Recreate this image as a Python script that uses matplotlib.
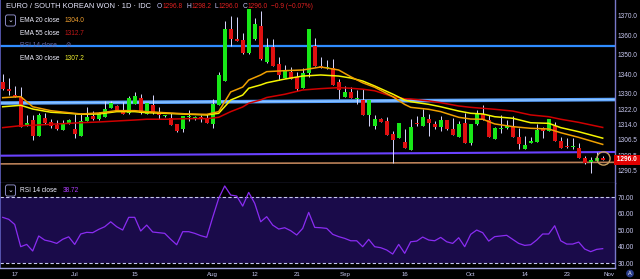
import numpy as np
import matplotlib
matplotlib.use('Agg')
import matplotlib.pyplot as plt

plt.rcParams['font.family'] = ['Liberation Sans', 'DejaVu Sans']

# ---------------- data ----------------
start_date = '2019-06-13'
opens = [1336.2, 1332.5, 1329.5, 1328.4, 1313.6, 1316.5, 1308.3, 1317.7, 1315.6, 1313.8,
         1311.4, 1314.8, 1312.1, 1308.3, 1316.0, 1318.6, 1316.9, 1318.2, 1322.8, 1323.7,
         1321.7, 1320.0, 1324.7, 1328.0, 1319.6, 1324.2, 1320.0, 1318.4, 1317.7, 1314.4,
         1311.9, 1318.3, 1316.9, 1318.2, 1317.0, 1314.4, 1324.2, 1336.7, 1363.2, 1358.1,
         1357.5, 1350.7, 1357.9, 1364.7, 1346.1, 1354.1, 1345.2, 1338.2, 1341.3, 1338.4,
         1333.1, 1340.5, 1354.6, 1344.4, 1343.0, 1343.0, 1335.9, 1328.3, 1330.9, 1327.5,
         1326.8, 1319.1, 1313.6, 1317.0, 1316.0, 1309.2, 1307.4, 1305.1, 1301.1, 1314.6,
         1313.6, 1317.0, 1314.4, 1313.1, 1316.5, 1311.8, 1307.8, 1315.1, 1304.6, 1314.3,
         1319.6, 1316.5, 1306.8, 1312.1, 1312.6, 1313.4, 1308.0, 1301.6, 1304.9, 1305.4,
         1312.5, 1311.0, 1313.4, 1305.7, 1302.8, 1302.7, 1302.3, 1297.2, 1295.0, 1295.5,
         1296.8]
highs = [1340.1, 1337.9, 1334.0, 1333.6, 1319.1, 1319.1, 1320.3, 1320.0, 1317.0, 1316.5,
         1316.5, 1317.0, 1319.6, 1320.0, 1323.3, 1321.1, 1320.8, 1326.3, 1326.3, 1324.0,
         1325.9, 1328.8, 1331.0, 1329.8, 1325.3, 1329.3, 1323.0, 1318.9, 1320.0, 1314.6,
         1318.8, 1321.7, 1318.4, 1319.1, 1319.6, 1327.3, 1341.3, 1367.4, 1369.8, 1369.2,
         1361.0, 1373.5, 1368.7, 1372.4, 1358.7, 1357.9, 1348.7, 1344.7, 1343.9, 1341.3,
         1343.0, 1363.2, 1358.4, 1349.0, 1347.3, 1347.8, 1337.5, 1334.0, 1333.3, 1331.9,
         1332.3, 1327.0, 1319.1, 1317.3, 1317.9, 1310.9, 1315.0, 1311.9, 1317.0, 1318.6,
         1322.0, 1319.6, 1316.0, 1318.6, 1316.7, 1317.7, 1316.0, 1320.3, 1314.5, 1321.7,
         1324.1, 1319.1, 1312.7, 1319.1, 1316.5, 1318.6, 1312.3, 1308.3, 1308.0, 1314.3,
         1312.7, 1317.2, 1315.3, 1308.0, 1307.1, 1307.1, 1304.6, 1298.1, 1297.7, 1300.3,
         1298.2]
lows = [1331.9, 1329.3, 1328.2, 1312.9, 1313.4, 1306.3, 1308.1, 1314.6, 1312.3, 1311.5,
        1311.2, 1314.6, 1307.1, 1308.1, 1315.8, 1316.5, 1316.7, 1318.0, 1322.6, 1321.1,
        1319.4, 1319.8, 1324.5, 1319.8, 1319.4, 1319.8, 1316.9, 1318.3, 1313.8, 1310.5,
        1310.2, 1316.2, 1316.7, 1315.6, 1315.0, 1312.3, 1324.0, 1336.5, 1354.6, 1357.0,
        1350.5, 1350.5, 1357.7, 1347.4, 1345.9, 1344.2, 1337.0, 1338.0, 1337.3, 1331.4,
        1332.9, 1338.7, 1344.2, 1343.1, 1342.8, 1334.3, 1327.3, 1328.1, 1327.7, 1324.5,
        1318.9, 1313.4, 1311.9, 1315.3, 1308.6, 1294.3, 1307.2, 1302.1, 1300.9, 1313.4,
        1313.4, 1308.5, 1311.7, 1310.9, 1311.5, 1308.6, 1307.6, 1304.7, 1303.7, 1314.1,
        1316.3, 1307.8, 1306.6, 1310.0, 1311.7, 1307.8, 1301.6, 1301.4, 1304.7, 1305.2,
        1307.1, 1310.8, 1305.7, 1302.1, 1302.0, 1301.6, 1297.0, 1294.1, 1289.5, 1295.3,
        1296.0]
closes = [1332.4, 1331.5, 1328.4, 1313.1, 1315.1, 1308.3, 1318.9, 1314.8, 1313.6, 1311.8,
          1314.4, 1316.5, 1309.4, 1316.0, 1318.2, 1316.9, 1320.0, 1322.3, 1325.1, 1321.3,
          1319.6, 1328.0, 1328.8, 1320.0, 1325.1, 1320.0, 1319.1, 1318.7, 1314.0, 1311.0,
          1318.6, 1318.6, 1318.2, 1316.9, 1315.1, 1324.7, 1339.6, 1363.2, 1358.1, 1357.2,
          1350.7, 1373.3, 1365.7, 1347.6, 1354.1, 1344.4, 1339.6, 1342.2, 1337.5, 1332.4,
          1340.5, 1363.0, 1344.4, 1343.3, 1343.9, 1334.5, 1331.9, 1330.9, 1328.0, 1327.8,
          1319.1, 1326.8, 1317.0, 1315.5, 1308.8, 1306.3, 1314.8, 1302.3, 1313.1, 1314.3,
          1318.2, 1315.1, 1312.8, 1316.5, 1311.8, 1308.8, 1314.3, 1304.9, 1314.3, 1319.6,
          1316.5, 1308.0, 1312.5, 1312.5, 1313.4, 1308.0, 1304.2, 1303.6, 1305.7, 1311.4,
          1311.0, 1317.0, 1305.9, 1302.3, 1302.7, 1303.3, 1297.2, 1294.3, 1296.0, 1297.2,
          1296.0]

# EMA lines at sample bars
ema_idx = [0, 3, 5, 8, 11, 13, 16, 19, 22, 24, 27, 31, 34, 36, 38, 40, 41, 43, 44, 47,
           50, 53, 56, 58, 60, 62, 65, 67, 68, 71, 73, 76, 78, 80, 82, 85, 88, 91, 93, 96, 100]
ema20 = [1327.95, 1328.5, 1323.3, 1321.3, 1320.25, 1319.6, 1320.1, 1321.3, 1321.3, 1320.8,
         1320.25, 1319.6, 1319.4, 1320.8, 1330.9, 1333.4, 1337.0, 1339.6, 1341.3, 1341.8,
         1342.15, 1343.7, 1342.15, 1338.7, 1335.6, 1333.3, 1328.5, 1324.5, 1323.0, 1322.0,
         1320.8, 1317.9, 1317.0, 1316.9, 1314.5, 1313.1, 1312.25, 1311.9, 1310.0, 1307.6, 1304.0]
ema30 = [1323.3, 1324.05, 1322.15, 1320.5, 1319.95, 1319.45, 1319.6, 1320.8, 1320.8, 1320.25,
         1319.95, 1319.45, 1319.1, 1319.95, 1326.75, 1329.3, 1332.8, 1334.5, 1335.6, 1337.5,
         1339.05, 1339.6, 1339.05, 1338.05, 1336.5, 1333.95, 1329.8, 1326.75, 1325.9, 1324.55,
         1323.3, 1321.1, 1319.95, 1319.6, 1318.2, 1317.4, 1315.1, 1314.8, 1312.6, 1310.5, 1307.2]
ema55 = [1312.6, 1313.6, 1313.8, 1314.3, 1314.8, 1315.1, 1315.5, 1316.0, 1316.5, 1316.9,
         1316.9, 1317.2, 1317.2, 1317.9, 1320.8, 1323.2, 1325.1, 1326.8, 1328.05, 1329.7,
         1331.9, 1332.6, 1333.1, 1332.8, 1332.3, 1331.5, 1328.5, 1327.4, 1327.3, 1326.3,
         1325.4, 1323.7, 1323.0, 1322.5, 1322.0, 1321.1, 1319.1, 1318.2, 1316.9, 1315.3, 1312.7]

rsi = [57.7, 56.5, 53.4, 39.9, 41.3, 37.3, 46.4, 43.9, 43.1, 41.9, 44.4, 45.9, 41.3, 47.6,
       48.6, 48.4, 50.4, 52.0, 55.0, 52.0, 50.0, 57.7, 57.7, 49.4, 53.0, 48.8, 48.4, 48.0,
       44.4, 41.1, 49.0, 49.0, 48.0, 46.6, 45.6, 57.7, 69.2, 76.7, 71.2, 70.6, 64.5, 72.8,
       66.2, 55.0, 58.1, 53.0, 50.6, 51.4, 49.6, 47.0, 51.0, 60.7, 51.6, 51.4,
       51.0, 47.4, 46.0, 44.95, 43.5, 43.5, 39.9, 44.35, 39.9, 39.3, 37.9, 35.45, 41.3, 35.9,
       42.9, 43.3, 45.75, 43.95, 43.5, 45.55, 42.9, 41.9, 45.35, 39.9, 47.4, 50.0, 48.4, 43.3,
       46.0, 46.4, 46.8, 44.35, 41.9, 40.7, 41.1, 43.95, 47.6, 47.6, 52.6, 43.5, 41.5, 41.5,
       42.7, 38.5, 36.9, 38.3, 38.72]

# drawn levels: (price at left edge, price at right edge, colour, width)
levels = [(1354.6, 1354.6, '#2f8cff', 1.6),
          (1325.2, 1327.0, '#5aa2ff', 2.6),
          (1298.2, 1300.1, '#6a42ff', 1.5),
          (1294.0, 1294.8, '#b98058', 1.2)]

tick_dates = ['2019-06-17', '2019-07-01', '2019-07-15', '2019-08-01', '2019-08-12', '2019-08-21',
              '2019-09-02', '2019-09-16', '2019-10-01', '2019-10-14', '2019-10-23', '2019-11-01']
tick_labels = ['17', 'Jul', '15', 'Aug', '12', '21', 'Sep', '16', 'Oct', '14', '23', 'Nov']
price_ticks = [1370.0, 1360.0, 1350.0, 1340.0, 1330.0, 1322.0, 1314.0, 1306.5, 1298.5, 1290.5]
rsi_ticks = [70, 60, 50, 40, 30]

title = 'EURO / SOUTH KOREAN WON · 1D · IDC'
ohlc_parts = [('O', '1296.8'), ('H', '1298.2'), ('L', '1296.0'), ('C', '1296.0')]
change_txt = '−0.9 (−0.07%)'
last_price = '1296.0'
legend_rows = [('EMA 20 close', '1304.0', '#f0a030'),
               ('EMA 55 close', '1312.7', '#c01818'),
               ('RSI 14 close', '⊘', '#6a6aa8'),
               ('EMA 30 close', '1307.2', '#f0f030')]
rsi_label = ('RSI 14 close', '38.72')

# ---------------- style ----------------
BG = '#000000'
LAV = '#c8c8f0'
UP = '#18e818'
DOWN = '#e01010'
WICK = '#d8d8ff'

W, H = 640, 279
fig = plt.figure(figsize=(W / 100, H / 100), dpi=100, facecolor=BG)
ax = fig.add_axes([0, 96 / H, 615 / W, 183 / H], facecolor=BG)
ax2 = fig.add_axes([0, 11 / H, 615 / W, 85 / H], facecolor=BG, sharex=ax)

x = np.arange(len(opens))
o = np.array(opens); c = np.array(closes); hi = np.array(highs); lo = np.array(lows)
up = c >= o
cols = np.where(up, UP, DOWN)

# horizontal/trend levels
for y0, y1, col, lw in levels:
    ax.plot([0, 1], [y0, y1], transform=ax.get_yaxis_transform(), color=col, lw=lw,
            solid_capstyle='butt', zorder=1)
ax.plot([0, 1], [levels[1][0], levels[1][1]], transform=ax.get_yaxis_transform(),
        color='#8cc4ff', lw=1.0, zorder=1.1)

# candles
ax.vlines(x, lo, hi, color=WICK, lw=0.7, zorder=2)
body_bottom = np.minimum(o, c)
body_h = np.maximum(np.abs(c - o), 0.5)
ax.bar(x, body_h, bottom=body_bottom, width=0.68, color=cols, edgecolor='none', zorder=3)

# EMAs
ax.plot(ema_idx, ema55, color='#d00000', lw=1.1, zorder=4)
ax.plot(ema_idx, ema30, color='#f5f500', lw=1.1, zorder=4)
ax.plot(ema_idx, ema20, color='#f0a000', lw=1.1, zorder=4)

# circle marker around last bar
ax.plot(x[-1], (highs[-1] + lows[-1]) / 2, 'o', ms=9.5, mfc='none', mec='#c8a060', mew=1.0,
        zorder=5)

ax.set_xlim(-0.45, 102.05)
ax.set_ylim(1284.2, 1378.05)

# RSI
ax2.axhspan(30, 70, color='#1a0b4a', lw=0, zorder=0)
for lvl in (70, 30):
    ax2.axhline(lvl, color='#c8c8f0', lw=0.8, dashes=(3, 2), zorder=1)
ax2.plot(x, rsi, color='#8a2cf2', lw=0.9, zorder=3)
ax2.set_ylim(27.0, 78.5)

# axes styling
for a in (ax, ax2):
    a.yaxis.tick_right()
    a.tick_params(axis='both', length=0, colors=LAV, labelsize=4.7, pad=2)
    for s in a.spines.values():
        s.set_visible(False)
    a.spines['left'].set_visible(True)
    a.spines['left'].set_color('#6060c0')
    a.spines['left'].set_linewidth(1.2)
    a.spines['right'].set_visible(True)
    a.spines['right'].set_color('#7878c8')
    a.spines['right'].set_linewidth(1.0)

ax.spines['bottom'].set_visible(True)
ax.spines['bottom'].set_color('#44447a')
ax.spines['bottom'].set_linewidth(1.0)
ax2.spines['bottom'].set_visible(True)
ax2.spines['bottom'].set_color('#a0a0e0')
ax2.spines['bottom'].set_linewidth(1.0)

ax.set_yticks(price_ticks)
ax.set_yticklabels([f'{v:.1f}' for v in price_ticks])
ax2.set_yticks(rsi_ticks)
ax2.set_yticklabels([f'{v:.2f}' for v in rsi_ticks])
ax.tick_params(axis='x', labelbottom=False)

tick_pos = [int(np.busday_count(start_date, d)) for d in tick_dates]
ax2.set_xticks(tick_pos)
ax2.set_xticklabels(tick_labels)
ax2.tick_params(axis='x', pad=3.2, labelsize=4.4)

# last price box
ax.text(1.0, float(closes[-1]), ' ' + last_price + '  ', transform=ax.get_yaxis_transform(),
        ha='left', va='center', color='white', fontsize=4.7, fontweight='bold',
        bbox=dict(facecolor='#e00000', edgecolor='none', pad=1.0), zorder=10, clip_on=False)

# ---------------- header texts ----------------
def fx(px):
    return px / W

def fy(py):
    return 1 - py / H

fig.text(fx(6), fy(6.5), title, color='#e8e8ff', fontsize=5.4, va='center', ha='left')

fig.canvas.draw()
renderer = fig.canvas.get_renderer()
cur = 157
for letter, val in ohlc_parts:
    t = fig.text(fx(cur), fy(6.5), letter, color='#c8c8ff', fontsize=4.8, va='center')
    cur = t.get_window_extent(renderer).x1 + 0.3
    t = fig.text(fx(cur), fy(6.5), val, color='#e02020', fontsize=4.8, va='center')
    cur = t.get_window_extent(renderer).x1 + 3.5
fig.text(fx(cur), fy(6.5), change_txt, color='#e02020', fontsize=4.8, va='center')

row_y = [20.7, 33.3, 45.5, 58.3]
for (name, val, vcol), ry in zip(legend_rows, row_y):
    ncol = '#6a6aa8' if name.startswith('RSI') else '#f0f0ff'
    fig.text(fx(20), fy(ry), name, color=ncol, fontsize=4.7, va='center')
    fig.text(fx(65), fy(ry), val, color=vcol, fontsize=4.7, va='center')

# collapse boxes
for cy in (20.5, 190.5):
    fig.text(fx(10.5), fy(cy), '⌄', color='#e0e0ff', fontsize=5, ha='center', va='center',
             bbox=dict(boxstyle='round,pad=0.3', facecolor='none', edgecolor='#8888c0', lw=0.7))

fig.text(fx(20), fy(190.5), rsi_label[0], color='#f0f0ff', fontsize=4.7, va='center')
fig.text(fx(63), fy(190.5), rsi_label[1], color='#b040ff', fontsize=4.7, va='center')

# auto-scale button
fig.text(fx(630), fy(273.5), 'A', color='white', fontsize=4, ha='center', va='center',
         bbox=dict(boxstyle='circle,pad=0.25', facecolor='#2a3c8a', edgecolor='none'))

fig.savefig('out.png', dpi=100, facecolor=BG)
